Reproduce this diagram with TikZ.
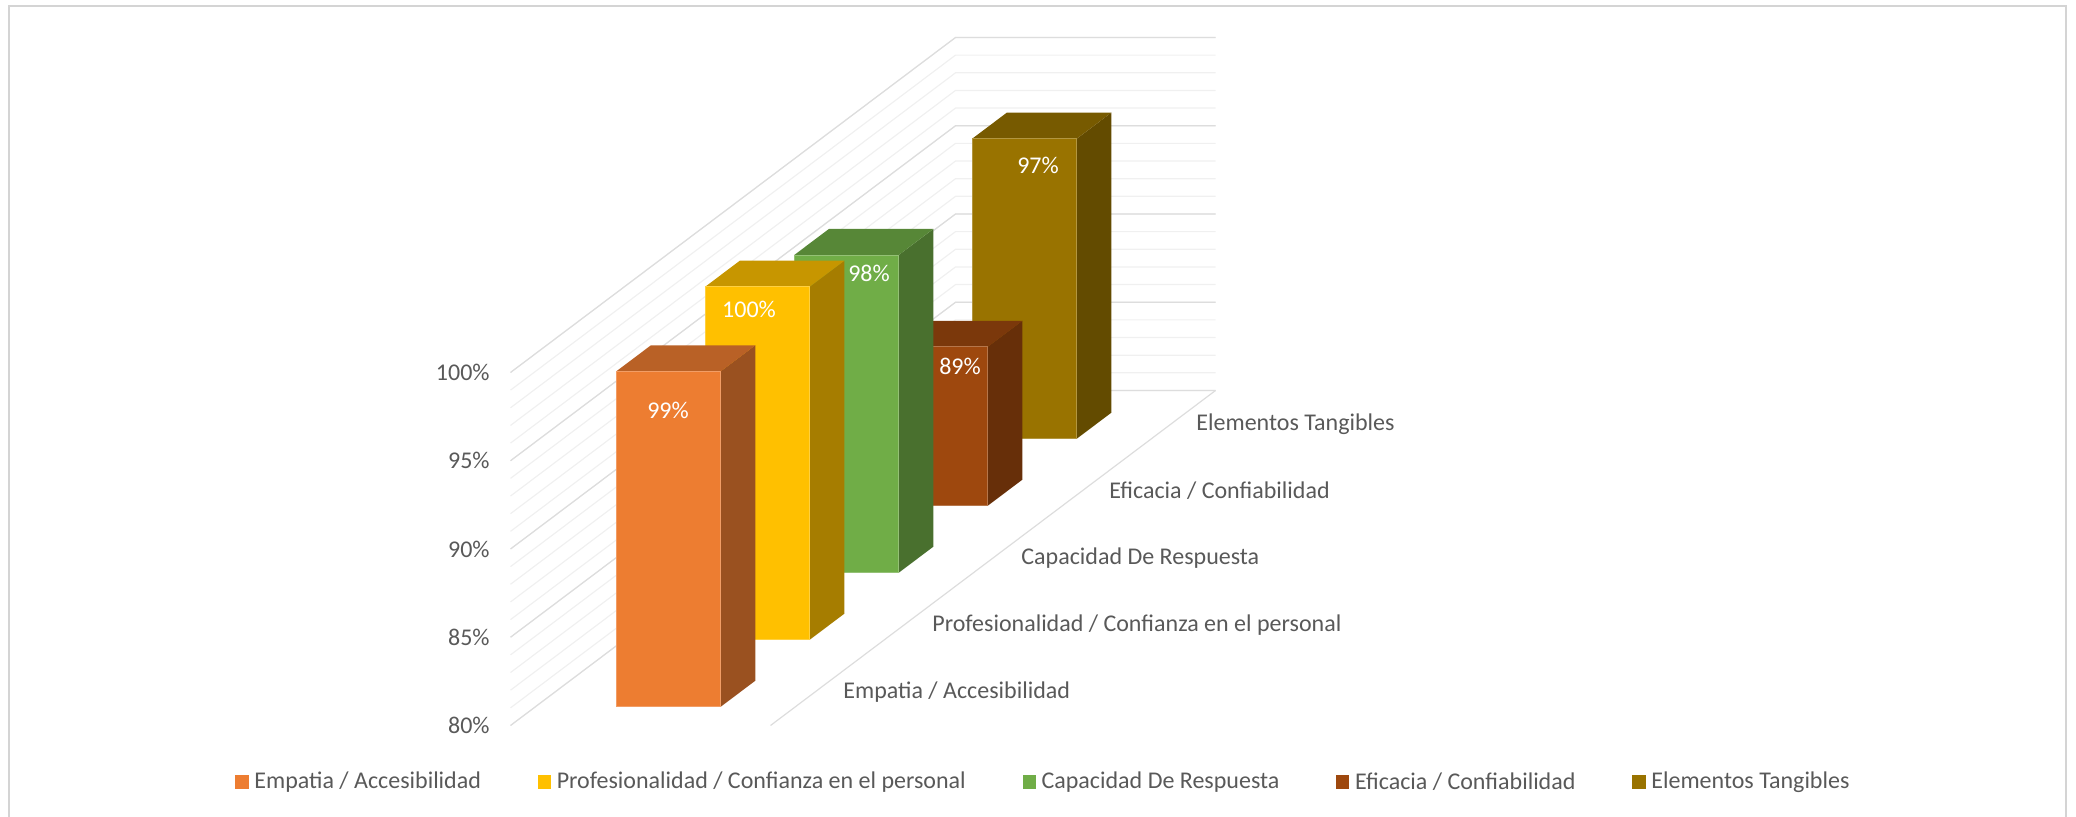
\documentclass[tikz,border=0pt]{standalone}
\usepackage{fontspec}
\setmainfont{Carlito}
\usepackage{tikz}
\usetikzlibrary{positioning}

\definecolor{empatia}{HTML}{ED7D31}
\definecolor{profes}{HTML}{FFC000}
\definecolor{capac}{HTML}{70AD47}
\definecolor{eficacia}{HTML}{9E480E}
\definecolor{tangib}{HTML}{997300}
\definecolor{txtgray}{HTML}{595959}
\definecolor{gridmaj}{HTML}{DDDDDD}
\definecolor{gridmin}{HTML}{F0F0F0}

\newcommand{\drawbar}[3]{%
  \pgfmathsetmacro{\bx}{591.3+89*(#1+0.28)}%
  \pgfmathsetmacro{\by}{725.5-67*(#1+0.28)}%
  \pgfmathsetmacro{\bt}{\by-(#2-80)*17.65}%
  \fill[#3!65!black] (\bx+104.5,\by) -- ++(34.7,-26.1) -- (\bx+139.2,\bt-26.1) -- (\bx+104.5,\bt) -- cycle;
  \fill[#3!78!black] (\bx,\bt) -- ++(34.7,-26.1) -- ++(104.5,0) -- ++(-34.7,26.1) -- cycle;
  \filldraw[fill=#3,draw=#3!75!white,line width=0.4pt] (\bx,\by) rectangle (\bx+104.5,\bt);
}

\begin{document}
\begin{tikzpicture}[x=0.5pt,y=-0.5pt,
    ylab/.style={anchor=east,text=txtgray,font=\fontsize{12}{14}\selectfont,inner sep=0pt},
    axlab/.style={anchor=west,text=txtgray,font=\fontsize{12}{14}\selectfont,inner sep=0pt},
    vlab/.style={text=white,font=\fontsize{12}{14}\selectfont,inner sep=0pt},
    legsq/.style={minimum size=6.6pt,inner sep=0pt},
    legtxt/.style={text=txtgray,font=\fontsize{12}{14}\selectfont,inner sep=0pt}]
            \useasboundingbox (0,0) rectangle (2076,817);
            \draw[gridmaj!90!gray,line width=1pt] (9,817) -- (9,6) -- (2066,6) -- (2066,817);

            \foreach \v in {80,...,100} {
                \pgfmathsetmacro{\gy}{725.5-(\v-80)*17.65}
                \draw[gridmin,line width=0.6pt] (510.5,\gy) -- ++(445,-335) -- ++(260,0);
            }
            \foreach \v in {80,85,...,100} {
                \pgfmathsetmacro{\gy}{725.5-(\v-80)*17.65}
                \draw[gridmaj,line width=0.6pt] (510.5,\gy) -- ++(445,-335) -- ++(260,0);
                \node[ylab] (y\v) at (490,\gy) {\v\%};
            }
            \draw[gridmaj,line width=0.6pt] (770.5,725.5) -- (1215.5,390.5);

            \drawbar{4}{97}{tangib}
            \drawbar{3}{89}{eficacia}
            \drawbar{2}{98}{capac}
            \drawbar{1}{100}{profes}
            \drawbar{0}{99}{empatia}

            \node[vlab] (v1) at (668,410) {99\%};
            \node[vlab] (v2) at (749,309) {100\%};
            \node[vlab] (v3) at (869,273) {98\%};
            \node[vlab] (v4) at (960,366) {89\%};
            \node[vlab] (v5) at (1038,165) {97\%};

            \node[axlab] (s1) at (843,692) {Empatia / Accesibilidad};
            \node[axlab] (s2) at (932,625) {Profesionalidad / Confianza en el personal};
            \node[axlab] (s3) at (1021,558) {Capacidad De Respuesta};
            \node[axlab] (s4) at (1109,491) {Eficacia / Confiabilidad};
            \node[axlab] (s5) at (1196,424) {Elementos Tangibles};

            \node[legsq,fill=empatia] (k1) at (242,782) {};
            \node[legtxt,right=2.5pt of k1] (t1) {Empatia / Accesibilidad};
            \node[legsq,fill=profes,right=28pt of t1] (k2) {};
            \node[legtxt,right=2.5pt of k2] (t2) {Profesionalidad / Confianza en el personal};
            \node[legsq,fill=capac,right=28pt of t2] (k3) {};
            \node[legtxt,right=2.5pt of k3] (t3) {Capacidad De Respuesta};
            \node[legsq,fill=eficacia,right=28pt of t3] (k4) {};
            \node[legtxt,right=2.5pt of k4] (t4) {Eficacia / Confiabilidad};
            \node[legsq,fill=tangib,right=28pt of t4] (k5) {};
            \node[legtxt,right=2.5pt of k5] (t5) {Elementos Tangibles};
\end{tikzpicture}
\end{document}
